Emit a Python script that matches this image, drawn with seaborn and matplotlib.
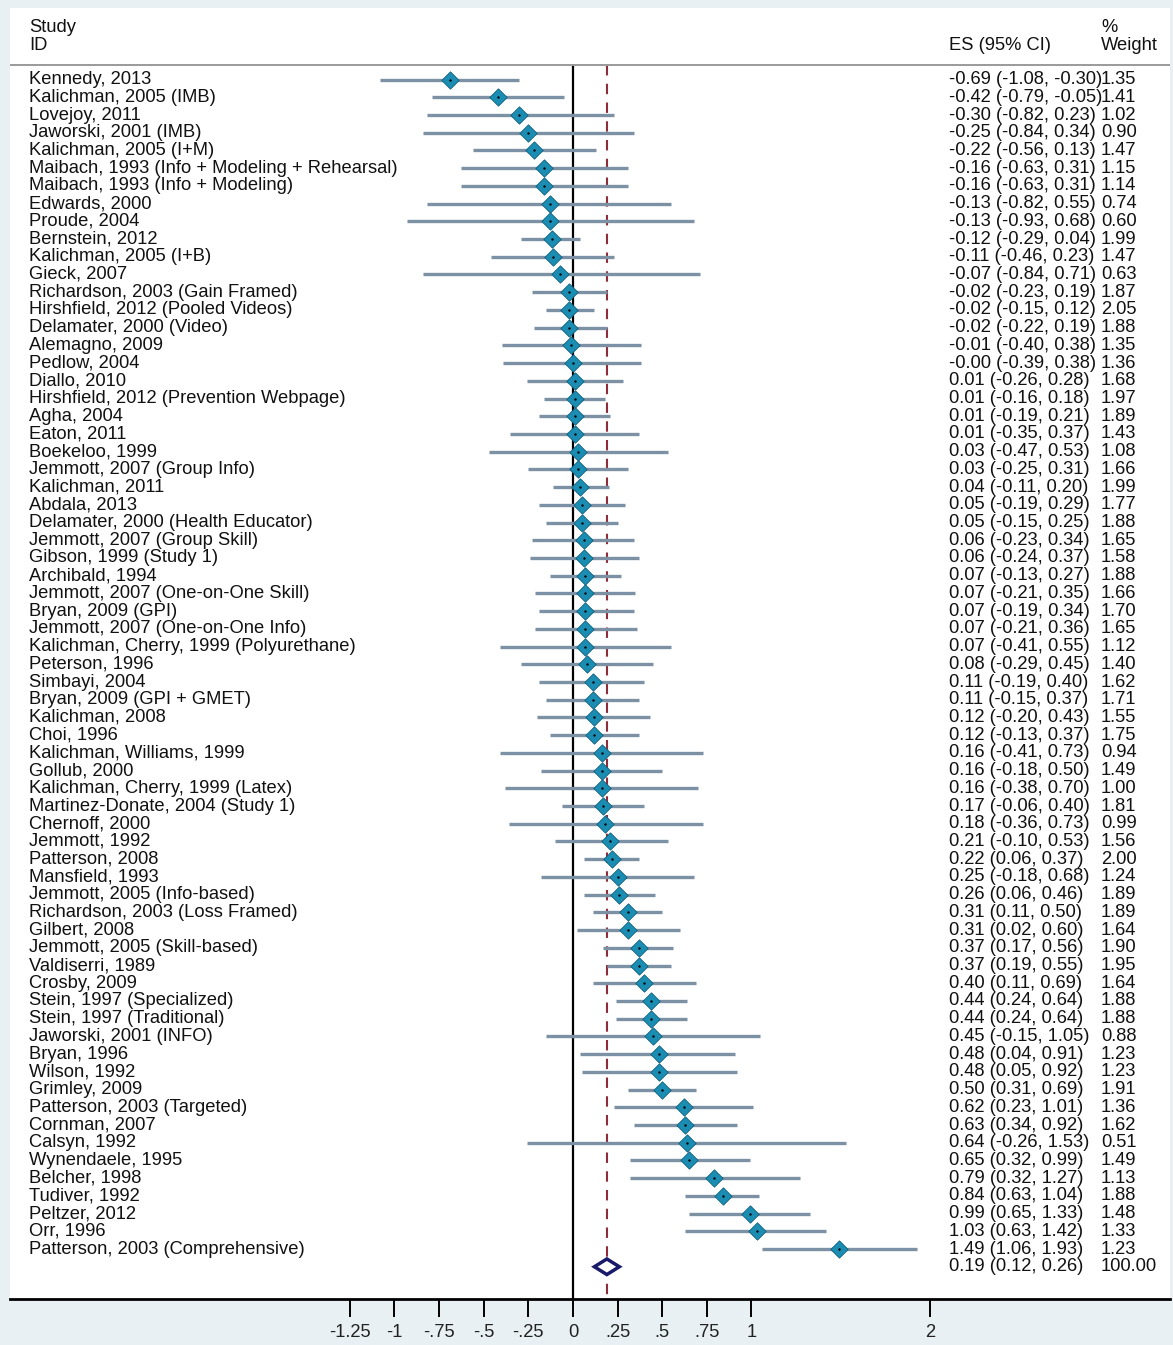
import numpy as np
import pandas as pd
import matplotlib
matplotlib.use("Agg")
import matplotlib.pyplot as plt
import matplotlib.transforms as mtransforms
from matplotlib.patches import Polygon
import seaborn as sns

# ---- study-level data ----
studies = [
    "Kennedy, 2013", "Kalichman, 2005 (IMB)", "Lovejoy, 2011", "Jaworski, 2001 (IMB)",
    "Kalichman, 2005 (I+M)", "Maibach, 1993 (Info + Modeling + Rehearsal)",
    "Maibach, 1993 (Info + Modeling)", "Edwards, 2000", "Proude, 2004", "Bernstein, 2012",
    "Kalichman, 2005 (I+B)", "Gieck, 2007", "Richardson, 2003 (Gain Framed)",
    "Hirshfield, 2012 (Pooled Videos)", "Delamater, 2000 (Video)", "Alemagno, 2009",
    "Pedlow, 2004", "Diallo, 2010", "Hirshfield, 2012 (Prevention Webpage)", "Agha, 2004",
    "Eaton, 2011", "Boekeloo, 1999", "Jemmott, 2007 (Group Info)", "Kalichman, 2011",
    "Abdala, 2013", "Delamater, 2000 (Health Educator)", "Jemmott, 2007 (Group Skill)",
    "Gibson, 1999 (Study 1)", "Archibald, 1994", "Jemmott, 2007 (One-on-One Skill)",
    "Bryan, 2009 (GPI)", "Jemmott, 2007 (One-on-One Info)",
    "Kalichman, Cherry, 1999 (Polyurethane)", "Peterson, 1996", "Simbayi, 2004",
    "Bryan, 2009 (GPI + GMET)", "Kalichman, 2008", "Choi, 1996", "Kalichman, Williams, 1999",
    "Gollub, 2000", "Kalichman, Cherry, 1999 (Latex)", "Martinez-Donate, 2004 (Study 1)",
    "Chernoff, 2000", "Jemmott, 1992", "Patterson, 2008", "Mansfield, 1993",
    "Jemmott, 2005 (Info-based)", "Richardson, 2003 (Loss Framed)", "Gilbert, 2008",
    "Jemmott, 2005 (Skill-based)", "Valdiserri, 1989", "Crosby, 2009",
    "Stein, 1997 (Specialized)", "Stein, 1997 (Traditional)", "Jaworski, 2001 (INFO)",
    "Bryan, 1996", "Wilson, 1992", "Grimley, 2009", "Patterson, 2003 (Targeted)",
    "Cornman, 2007", "Calsyn, 1992", "Wynendaele, 1995", "Belcher, 1998", "Tudiver, 1992",
    "Peltzer, 2012", "Orr, 1996", "Patterson, 2003 (Comprehensive)",
]
es = [-0.69, -0.42, -0.30, -0.25, -0.22, -0.16, -0.16, -0.13, -0.13, -0.12, -0.11, -0.07,
      -0.02, -0.02, -0.02, -0.01, -0.00, 0.01, 0.01, 0.01, 0.01, 0.03, 0.03, 0.04, 0.05,
      0.05, 0.06, 0.06, 0.07, 0.07, 0.07, 0.07, 0.07, 0.08, 0.11, 0.11, 0.12, 0.12, 0.16,
      0.16, 0.16, 0.17, 0.18, 0.21, 0.22, 0.25, 0.26, 0.31, 0.31, 0.37, 0.37, 0.40, 0.44,
      0.44, 0.45, 0.48, 0.48, 0.50, 0.62, 0.63, 0.64, 0.65, 0.79, 0.84, 0.99, 1.03, 1.49]
ci_low = [-1.08, -0.79, -0.82, -0.84, -0.56, -0.63, -0.63, -0.82, -0.93, -0.29, -0.46, -0.84,
          -0.23, -0.15, -0.22, -0.40, -0.39, -0.26, -0.16, -0.19, -0.35, -0.47, -0.25, -0.11,
          -0.19, -0.15, -0.23, -0.24, -0.13, -0.21, -0.19, -0.21, -0.41, -0.29, -0.19, -0.15,
          -0.20, -0.13, -0.41, -0.18, -0.38, -0.06, -0.36, -0.10, 0.06, -0.18, 0.06, 0.11,
          0.02, 0.17, 0.19, 0.11, 0.24, 0.24, -0.15, 0.04, 0.05, 0.31, 0.23, 0.34, -0.26,
          0.32, 0.32, 0.63, 0.65, 0.63, 1.06]
ci_high = [-0.30, -0.05, 0.23, 0.34, 0.13, 0.31, 0.31, 0.55, 0.68, 0.04, 0.23, 0.71, 0.19,
           0.12, 0.19, 0.38, 0.38, 0.28, 0.18, 0.21, 0.37, 0.53, 0.31, 0.20, 0.29, 0.25,
           0.34, 0.37, 0.27, 0.35, 0.34, 0.36, 0.55, 0.45, 0.40, 0.37, 0.43, 0.37, 0.73,
           0.50, 0.70, 0.40, 0.73, 0.53, 0.37, 0.68, 0.46, 0.50, 0.60, 0.56, 0.55, 0.69,
           0.64, 0.64, 1.05, 0.91, 0.92, 0.69, 1.01, 0.92, 1.53, 0.99, 1.27, 1.04, 1.33,
           1.42, 1.93]
weights = [1.35, 1.41, 1.02, 0.90, 1.47, 1.15, 1.14, 0.74, 0.60, 1.99, 1.47, 0.63, 1.87,
           2.05, 1.88, 1.35, 1.36, 1.68, 1.97, 1.89, 1.43, 1.08, 1.66, 1.99, 1.77, 1.88,
           1.65, 1.58, 1.88, 1.66, 1.70, 1.65, 1.12, 1.40, 1.62, 1.71, 1.55, 1.75, 0.94,
           1.49, 1.00, 1.81, 0.99, 1.56, 2.00, 1.24, 1.89, 1.89, 1.64, 1.90, 1.95, 1.64,
           1.88, 1.88, 0.88, 1.23, 1.23, 1.91, 1.36, 1.62, 0.51, 1.49, 1.13, 1.88, 1.48,
           1.33, 1.23]

# pooled estimate
overall_es = 0.19
overall_low = 0.12
overall_high = 0.26
overall_weight = 100.00

tick_values = [-1.25, -1, -0.75, -0.5, -0.25, 0, 0.25, 0.5, 0.75, 1, 2]
tick_labels = ["-1.25", "-1", "-.75", "-.5", "-.25", "0", ".25", ".5", ".75", "1", "2"]

df = pd.DataFrame({"study": studies, "es": es, "lo": ci_low, "hi": ci_high, "w": weights})
df["row"] = np.arange(len(df))
overall_row = len(df)

# ---- styling ----
sns.set_theme(style="white")
plt.rcParams["font.family"] = ["Liberation Sans", "DejaVu Sans"]

BG = "#e8f0f3"
CI_COLOR = "#7c91a4"
MARK_COLOR = "#1b8db3"
MARK_EDGE = "#0e5f7c"
POOL_COLOR = "#1a1a6b"
REF_COLOR = "#8e2c3a"
TEXT_COLOR = "#111111"
FS = 13.2

fig = plt.figure(figsize=(11.73, 13.45), dpi=100)
fig.patch.set_facecolor(BG)
ax = fig.add_axes([10 / 1173, 46 / 1345, 1160 / 1173, 1291 / 1345])
ax.set_facecolor("white")

y_top, y_bottom = -4.04, 68.82
ax.set_xlim(-3.154, 3.345)
ax.set_ylim(y_bottom, y_top)

header_y = -0.846

# reference lines
ax.plot([0, 0], [header_y, y_bottom], color="black", lw=1.6, zorder=1)
ax.plot([overall_es, overall_es], [header_y, y_bottom], color=REF_COLOR, lw=1.5,
        dashes=(5, 4), zorder=1)

# confidence intervals
ax.hlines(df["row"], df["lo"], df["hi"], color=CI_COLOR, lw=2.4, zorder=2)

# point estimates
sns.scatterplot(data=df, x="es", y="row", marker="D", s=78, color=MARK_COLOR,
                edgecolor=MARK_EDGE, linewidth=0.6, zorder=3, ax=ax, legend=False)
sns.scatterplot(data=df, x="es", y="row", marker="o", s=3, color="black",
                edgecolor="black", linewidth=0, zorder=4, ax=ax, legend=False)

# pooled diamond
diamond = Polygon([[overall_low, overall_row], [overall_es, overall_row - 0.44],
                   [overall_high, overall_row], [overall_es, overall_row + 0.44]],
                  closed=True, facecolor="white", edgecolor=POOL_COLOR, lw=2.5, zorder=4)
ax.add_patch(diamond)

# header separator
ax.axhline(header_y, color="#9a9a9a", lw=1.4, zorder=1)

# text columns
tr = mtransforms.blended_transform_factory(ax.transAxes, ax.transData)
x_study = 19 / 1160
x_es = 939 / 1160
x_w = 1091 / 1160
txt = dict(transform=tr, fontsize=FS, va="center", ha="left", color=TEXT_COLOR)

ax.text(x_study, -2.95, "Study", **txt)
ax.text(x_study, -1.93, "ID", **txt)
ax.text(x_es, -1.93, "ES (95% CI)", **txt)
ax.text(x_w, -2.95, "%", **txt)
ax.text(x_w, -1.93, "Weight", **txt)

for _, r in df.iterrows():
    ax.text(x_study, r["row"], r["study"], **txt)
    ax.text(x_es, r["row"], f"{r['es']:.2f} ({r['lo']:.2f}, {r['hi']:.2f})", **txt)
    ax.text(x_w, r["row"], f"{r['w']:.2f}", **txt)

ax.text(x_es, overall_row, f"{overall_es:.2f} ({overall_low:.2f}, {overall_high:.2f})", **txt)
ax.text(x_w, overall_row, f"{overall_weight:.2f}", **txt)

# axes styling
for side in ["top", "left", "right"]:
    ax.spines[side].set_visible(False)
ax.spines["bottom"].set_color("black")
ax.spines["bottom"].set_linewidth(2.0)
ax.set_yticks([])
ax.set_xticks(tick_values)
ax.set_xticklabels(tick_labels, fontsize=FS)
ax.tick_params(axis="x", direction="out", length=13, width=1.4, color="black",
               pad=5, labelcolor="#222222", bottom=True)
ax.set_xlabel("")
ax.set_ylabel("")

fig.savefig("out.png", dpi=100, facecolor=BG)
